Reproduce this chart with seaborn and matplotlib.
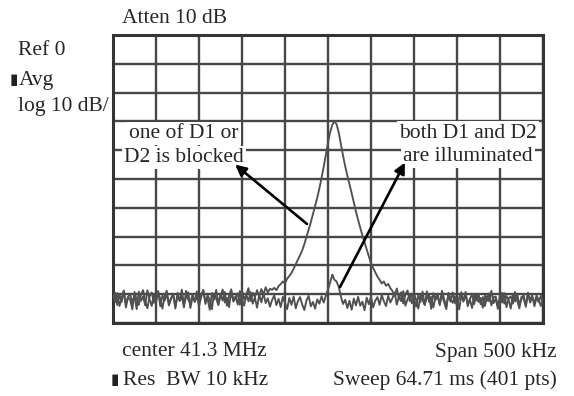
import numpy as np
import pandas as pd
import matplotlib
matplotlib.use("Agg")
import matplotlib.pyplot as plt
import seaborn as sns

# ---------------- data ----------------
n_points = 201
span_khz = 500.0
center_mhz = 41.3

# trace with one of D1 / D2 blocked (beat note visible), dB
blocked_db = [
    -91.2, -89.5, -93.8, -90.1, -92.7, -88.9, -94.6, -91.0, -89.8, -93.1,
    -90.4, -95.2, -89.1, -92.3, -90.8, -93.9, -88.6, -91.7, -94.1, -90.2,
    -92.9, -89.4, -91.6, -95.0, -90.7, -88.8, -93.3, -91.4, -89.9, -94.4,
    -90.6, -92.1, -88.4, -93.6, -91.1, -89.3, -94.8, -90.9, -92.5, -89.0,
    -93.0, -90.3, -88.7, -92.8, -91.5, -95.4, -89.6, -91.9, -88.5, -93.4,
    -90.0, -92.2, -89.2, -94.0, -90.5, -88.3, -92.6, -91.3, -89.7, -93.7,
    -88.9, -91.8, -90.2, -87.9, -92.4, -89.5, -91.0, -88.6, -90.8, -88.2,
    -90.1, -87.6, -89.4, -88.1,
    -88.5, -87.8, -88.6, -87.2, -86.5, -85.6, -86.2, -84.6, -83.7, -82.6,
    -81.2, -79.6, -78.0, -76.5, -74.8, -72.6, -70.0, -67.6, -65.0, -62.2,
    -59.4, -56.5, -53.2, -49.6, -45.8, -41.6, -37.4, -33.8, -31.2, -30.0,
    -31.0, -33.9, -38.0, -41.9, -45.6, -48.8, -51.8, -54.9, -58.1, -61.3,
    -64.2, -66.9, -69.6, -72.0, -74.5, -76.7, -79.3, -80.9, -82.4, -83.9,
    -85.0, -86.3, -85.6, -87.1, -86.4, -87.9,
    -88.9, -90.6, -88.0, -91.8, -89.3, -93.2, -90.0, -88.7, -92.4, -89.8,
    -91.5, -94.3, -90.2, -92.8, -89.1, -93.6, -91.2, -90.4, -95.1, -89.6,
    -92.0, -90.9, -93.8, -88.8, -91.7, -94.5, -90.3, -92.6, -89.4, -93.1,
    -91.0, -95.3, -90.7, -92.2, -89.2, -94.2, -91.6, -90.1, -93.5, -89.9,
    -92.7, -91.3, -94.7, -90.5, -92.3, -89.7, -93.9, -91.1, -90.8, -94.0,
    -92.1, -89.5, -93.3, -90.6, -91.9, -95.0, -90.0, -92.5, -89.8, -93.7,
    -91.4, -90.2, -94.4, -89.6, -92.9, -91.0, -93.0, -90.4, -92.0, -94.1,
    -91.5,
]

# trace with both D1 and D2 illuminated (beat note suppressed), dB
both_db = [
    -90.3, -92.8, -89.6, -94.1, -91.4, -88.7, -93.5, -90.9, -92.0, -95.3,
    -89.2, -91.8, -93.7, -90.1, -88.6, -92.6, -94.9, -90.7, -89.4, -93.0,
    -91.2, -88.9, -94.2, -90.4, -92.3, -89.8, -93.9, -91.6, -90.0, -95.0,
    -89.5, -92.4, -90.8, -94.6, -88.8, -91.9, -93.2, -89.9, -92.7, -90.6,
    -94.3, -91.0, -88.5, -93.4, -90.2, -92.1, -95.2, -89.7, -91.5, -93.8,
    -90.5, -88.4, -92.9, -91.3, -94.5, -89.1, -92.2, -90.7, -93.6, -88.9,
    -91.7, -94.0, -90.1, -92.5, -89.3, -93.3, -91.1, -94.7, -90.3, -92.8,
    -89.6, -93.1, -91.4, -94.4,
    -92.0, -90.4, -93.8, -91.6, -94.5, -90.9, -93.1, -95.2, -91.3, -93.7,
    -90.8, -94.9, -92.4, -91.0, -93.6, -95.5, -92.1, -90.6, -94.2, -92.7,
    -95.0, -91.8, -93.3, -90.7, -92.9, -90.5, -88.4, -85.9, -83.2, -85.0,
    -85.6, -87.5, -90.8, -93.4, -91.9, -94.8, -92.3, -95.4, -91.5, -93.9,
    -90.9, -94.0, -92.6, -95.6, -91.2, -93.5, -90.8, -94.6, -92.2, -91.0,
    -93.7, -90.3, -92.5, -94.1, -90.6, -92.9,
    -91.3, -89.4, -93.6, -90.8, -92.4, -88.9, -94.0, -91.7, -90.2, -93.2,
    -89.7, -92.0, -95.0, -90.5, -91.9, -93.8, -89.0, -92.7, -90.9, -94.6,
    -91.1, -89.8, -93.4, -90.3, -92.8, -95.2, -89.5, -91.6, -93.0, -90.7,
    -94.3, -91.2, -89.3, -92.6, -90.0, -93.7, -91.8, -94.8, -90.4, -92.2,
    -89.9, -93.5, -91.0, -94.1, -90.6, -92.5, -88.8, -93.1, -91.5, -95.1,
    -90.1, -92.9, -89.6, -94.5, -91.4, -90.8, -93.3, -89.2, -92.3, -94.9,
    -90.9, -91.7, -93.9, -89.5, -92.1, -90.3, -94.2, -91.3, -92.7, -90.5,
    -93.6,
]

freq_offset_khz = np.linspace(-span_khz / 2, span_khz / 2, n_points)

header_texts = ["Atten 10 dB", "Ref 0", "Avg", "log 10 dB/"]
footer_texts = ["center 41.3 MHz", "Res  BW 10 kHz", "Span 500 kHz",
                "Sweep 64.71 ms (401 pts)"]
label_blocked = ["one of D1 or", "D2 is blocked"]
label_both = ["both D1 and D2", "are illuminated"]

df = pd.DataFrame({
    "freq": np.concatenate([freq_offset_khz, freq_offset_khz]),
    "level": np.array(blocked_db + both_db),
    "trace": ["blocked"] * n_points + ["both"] * n_points,
})

# ---------------- figure ----------------
sns.set_style("white")
plt.rcParams["font.family"] = ["Liberation Serif", "DejaVu Sans"]

W, H = 574, 396
fig = plt.figure(figsize=(W / 100, H / 100), dpi=100)
ax = fig.add_axes([113 / W, 1 - 323 / H, 430 / W, 288 / H])

grid_col = "#474747"
ax.set_xlim(-span_khz / 2, span_khz / 2)
ax.set_ylim(-100, 0)
ax.set_xticks(np.arange(-250, 251, 50))
ax.set_yticks(np.arange(-100, 1, 10))
ax.tick_params(length=0, labelbottom=False, labelleft=False)
ax.grid(True, color=grid_col, lw=1.7, zorder=0)
ax.set_axisbelow(True)
for s in ax.spines.values():
    s.set_color("#353535")
    s.set_linewidth(2.2)

sns.lineplot(data=df, x="freq", y="level", hue="trace",
             palette={"blocked": "#505050", "both": "#505050"},
             lw=1.35, legend=False, ax=ax, estimator=None, zorder=3)
ax.set_xlabel("")
ax.set_ylabel("")

fs = 15.5
bbox = dict(facecolor="white", edgecolor="none", pad=1.5)
ax.text(-167.5, -35.8, label_blocked[0], ha="center", va="baseline",
        fontsize=fs, bbox=bbox, zorder=4)
ax.text(-167.5, -44.0, label_blocked[1], ha="center", va="baseline",
        fontsize=fs, bbox=bbox, zorder=4)
ax.text(162.5, -35.6, label_both[0], ha="center", va="baseline",
        fontsize=fs, bbox=bbox, zorder=4)
ax.text(162.5, -43.6, label_both[1], ha="center", va="baseline",
        fontsize=fs, bbox=bbox, zorder=4)

arrow = dict(arrowstyle="-|>", color="black", lw=1.9, mutation_scale=16,
             shrinkA=0, shrinkB=0)
ax.annotate("", xy=(-108, -45.0), xytext=(-24.5, -65.6), arrowprops=arrow,
            zorder=5)
ax.annotate("", xy=(89.5, -44.3), xytext=(14.0, -87.5), arrowprops=arrow,
            zorder=5)


def ftext(px, py, s, ha="left", size=fs, **kw):
    fig.text(px / W, 1 - py / H, s, ha=ha, va="baseline", fontsize=size, **kw)


ftext(122, 23, header_texts[0])
ftext(18, 55, header_texts[1])
ftext(18.5, 85, header_texts[2])
ftext(18, 111.5, header_texts[3])
ftext(10, 84, "▮", family="DejaVu Sans", size=11, color="#222222")

ftext(121.5, 356.5, footer_texts[0])
ftext(123, 385, footer_texts[1])
ftext(111, 384, "▮", family="DejaVu Sans", size=11, color="#222222")
ftext(557, 356.5, footer_texts[2], ha="right")
ftext(557, 385, footer_texts[3], ha="right")

fig.savefig("out.png", dpi=100, facecolor="white")
